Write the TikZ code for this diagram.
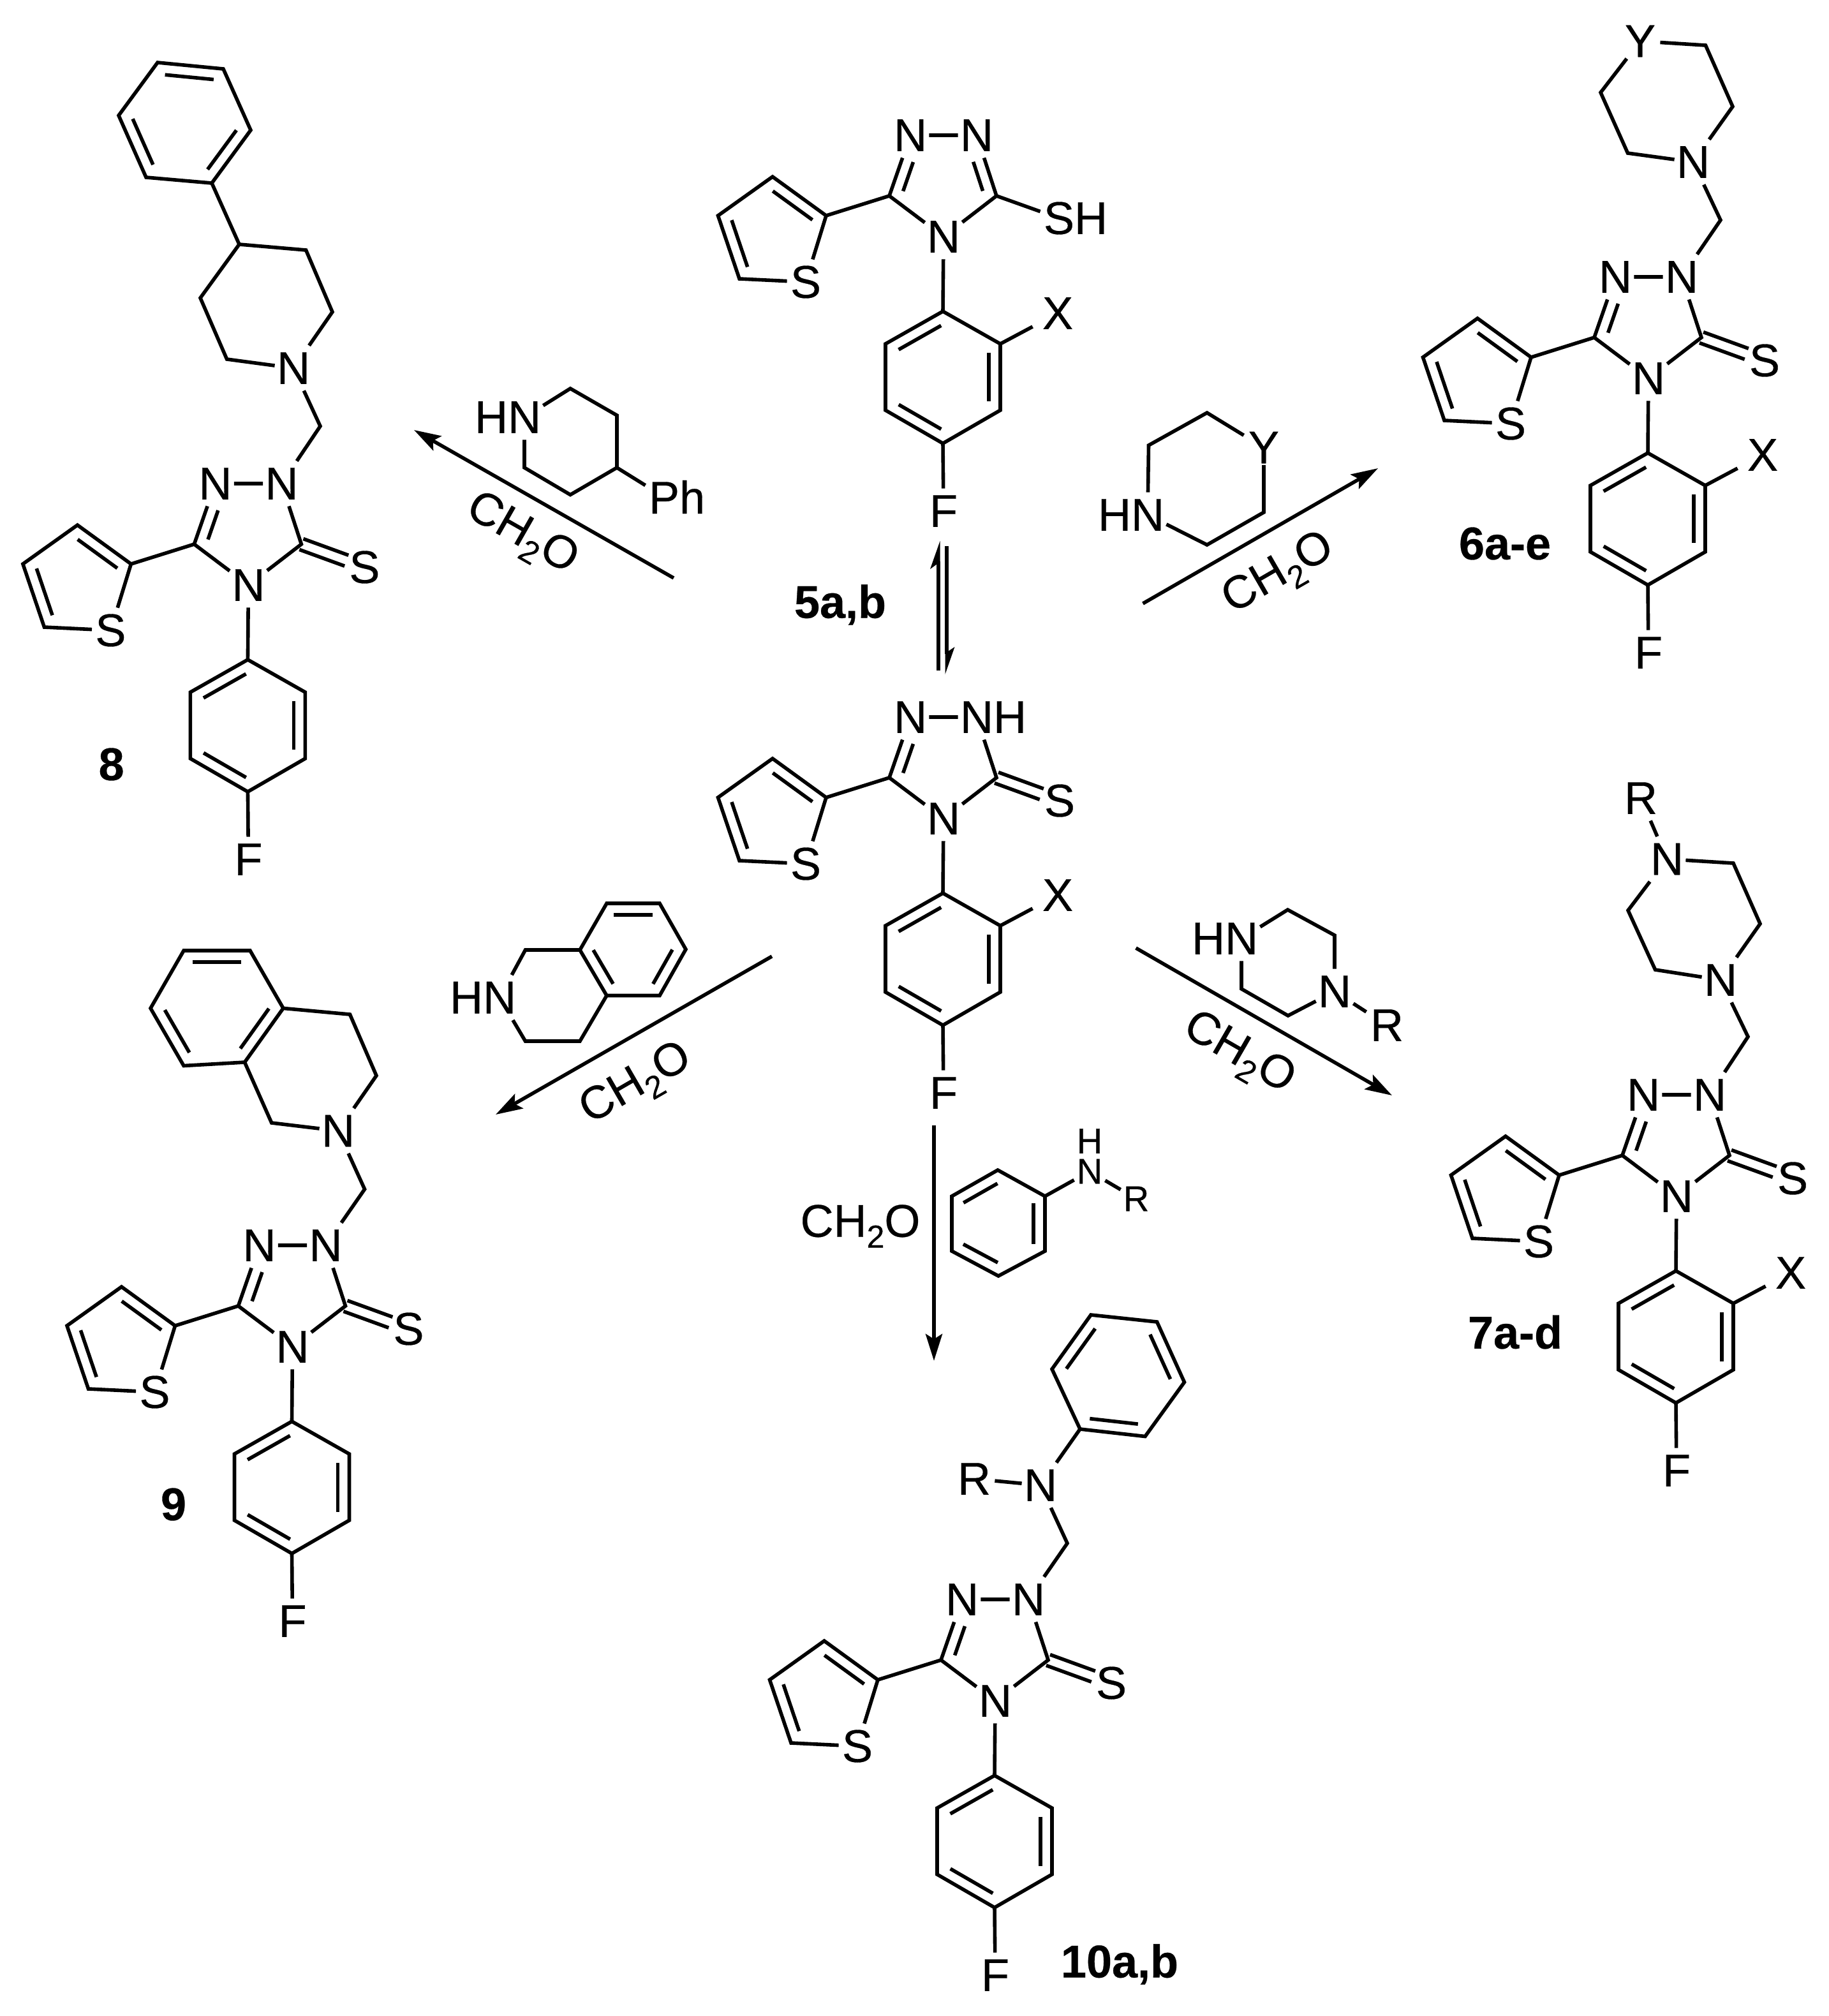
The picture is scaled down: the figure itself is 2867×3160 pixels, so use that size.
\documentclass[tikz,border=0pt]{standalone}
\usepackage{fontspec}
\setmainfont{Liberation Sans}[FakeBold=0.4,BoldFeatures={FakeBold=0.4}]
\usetikzlibrary{calc,arrows.meta}
\tikzset{
  bond/.style={line width=2.8pt,line join=miter,black},
  rxn/.style={line width=2.8pt,black,-{Stealth[length=21pt,width=13pt,inset=4pt]}},
  atom/.style={inner sep=0pt,minimum width=29pt,minimum height=35pt,font=\fontsize{36}{40}\selectfont},
  atomy/.style={atom,minimum width=31pt,minimum height=27pt},
  atomr/.style={atom,minimum width=32pt,minimum height=35pt},
  atomx/.style={atom,minimum width=39pt},
  atoms/.style={inner sep=0pt,minimum width=24pt,minimum height=28pt,font=\fontsize{28}{32}\selectfont},
  cpdlabel/.style={inner sep=0pt,font=\fontsize{36}{40}\selectfont\bfseries},
  condlabel/.style={inner sep=0pt,font=\fontsize{36}{40}\selectfont}
}
\newcommand\formald{CH\raisebox{-8.5pt}{\fontsize{25}{25}\selectfont 2}O}
\newcommand\dblf[4]{\draw[bond] ($(#1)!#3!(#2)!9pt!-90:(#2)$) -- ($(#2)!#4!(#1)!9pt!90:(#1)$);}
\newcommand\dbl[2]{\dblf{#1}{#2}{0.13}{0.13}}
\newcommand\vtx[2]{\coordinate (#1) at (#2);}
\newcommand\core[4]{%
  \begin{scope}[shift={(#2,#3)}]
    \node[atom] (#1n4) at (0,0) {N};
    \node[atom] (#1n1) at (-52,-159) {N};
    \node[atom] (#1n2) at (52,-159) {#4};
    \coordinate (#1c3) at (-85,-64);
    \coordinate (#1c5) at (83,-64);
    \coordinate (#1t2) at (-184,-33);
    \coordinate (#1t3) at (-268,-94);
    \coordinate (#1t4) at (-353.5,-33);
    \coordinate (#1t5) at (-320,66);
    \node[atom] (#1ts) at (-216,71) {S};
    \coordinate (#1b1) at (-1,117);
    \coordinate (#1b2) at (89,168);
    \coordinate (#1b3) at (89,272);
    \coordinate (#1b4) at (-1,324);
    \coordinate (#1b5) at (-91,272);
    \coordinate (#1b6) at (-91,168);
    \node[atom] (#1f) at (0,430) {F};
  \end{scope}
  \draw[bond] (#1n1) -- (#1c3) -- (#1n4) -- (#1c5) -- (#1n2) -- (#1n1);
  \dblf{#1c3}{#1n1}{0.14}{0.38}
  \draw[bond] (#1c3) -- (#1t2);
  \draw[bond] (#1ts) -- (#1t2) -- (#1t3) -- (#1t4) -- (#1t5) -- (#1ts);
  \dbl{#1t3}{#1t2}
  \dbl{#1t5}{#1t4}
  \draw[bond] (#1n4) -- (#1b1);
  \draw[bond] (#1b1) -- (#1b2) -- (#1b3) -- (#1b4) -- (#1b5) -- (#1b6) -- cycle;
  \dbl{#1b6}{#1b1}
  \dbl{#1b2}{#1b3}
  \dbl{#1b4}{#1b5}
  \draw[bond] (#1b4) -- (#1f);
}
\newcommand\thione[1]{%
  \node[atom] (#1sx) at ($(#1n4)+(182,-28)$) {S};
  \draw[bond,shorten >=15pt] ($(#1c5)!4.5pt!90:(#1sx)$) -- ($(#1sx)!4.5pt!-90:(#1c5)$);
  \draw[bond,shorten >=15pt] ($(#1c5)!4.5pt!-90:(#1sx)$) -- ($(#1sx)!4.5pt!90:(#1c5)$);
}
\newcommand\xsub[1]{%
  \node[atomx] (#1x) at ($(#1n4)+(179,120)$) {X};
  \draw[bond] (#1b2) -- (#1x);
}
\begin{document}
\begin{tikzpicture}[x=0.5pt,y=-0.5pt]
\useasboundingbox (0,0) rectangle (2867,3160);

% ---------- 5a,b thiol ----------
\core{ma}{1479}{371}{N}
\xsub{ma}
\node[atom] (masx) at ($(man4)+(181,-29)$) {S\rlap{H}};
\draw[bond] (mac5) -- (masx);
\dblf{man2}{mac5}{0.38}{0.14}
\node[cpdlabel] (lfive) at (1317,948) {5a,b};

% ---------- equilibrium ----------
\vtx{eqa}{1471,1051}
\vtx{eqb}{1471,880}
\draw[bond] (eqa) -- (eqb);
\vtx{eqc}{1473.5,848}
\vtx{eqd}{1458,892}
\vtx{eqe}{1469,884}
\vtx{eqf}{1473.5,884}
\fill (eqc) -- (eqd) -- (eqe) -- (eqf) -- cycle;
\vtx{eqg}{1484,856}
\vtx{eqh}{1484,1025}
\draw[bond] (eqg) -- (eqh);
\vtx{eqi}{1481.5,1057}
\vtx{eqj}{1496.5,1014}
\vtx{eqk}{1486,1021}
\vtx{eql}{1481.5,1021}
\fill (eqi) -- (eqj) -- (eqk) -- (eql) -- cycle;

% ---------- central thione ----------
\core{mb}{1479}{1283}{N\rlap{H}}
\xsub{mb}
\thione{mb}

% ---------- 8 ----------
\core{mc}{389.4}{917}{N}
\thione{mc}
\node[atom] (mcn) at (460,577) {N};
\vtx{mcm}{502,668}
\draw[bond] (mcn2) -- (mcm) -- (mcn);
\vtx{mcp1}{521,489}
\vtx{mcp2}{479.6,392}
\vtx{mcp3}{375,383}
\vtx{mcp4}{314,467}
\vtx{mcp5}{355.6,563}
\draw[bond] (mcn) -- (mcp1) -- (mcp2) -- (mcp3) -- (mcp4) -- (mcp5) -- (mcn);
\vtx{mca1}{332,287}
\vtx{mca2}{393,204}
\vtx{mca3}{350,108}
\vtx{mca4}{247,98}
\vtx{mca5}{186,181}
\vtx{mca6}{229,278}
\draw[bond] (mcp3) -- (mca1);
\draw[bond] (mca1) -- (mca6) -- (mca5) -- (mca4) -- (mca3) -- (mca2) -- cycle;
\dbl{mca2}{mca1}
\dbl{mca4}{mca3}
\dbl{mca6}{mca5}
\node[cpdlabel] (leight) at (174.6,1198) {8};

% reagent for 8
\node[atom] (ran) at (822,654) {\llap{H}N};
\vtx{ra1}{894,609}
\vtx{ra2}{967,651}
\vtx{ra3}{967,733}
\vtx{ra4}{894,775.5}
\vtx{ra5}{822,733}
\draw[bond] (ran) -- (ra1) -- (ra2) -- (ra3) -- (ra4) -- (ra5) -- (ran);
\node[atom] (rap) at (1041,779) {P\rlap{h}};
\draw[bond] (ra3) -- (rap);
\vtx{raa}{1056,906}
\vtx{rab}{649,674}
\draw[rxn] (raa) -- (rab);
\node[condlabel,rotate=-29.7] (fa) at (817,839) {\formald};

% ---------- 6a-e ----------
\core{md}{2584}{593}{N}
\xsub{md}
\thione{md}
\node[atom] (mdn) at (2654,254) {N};
\vtx{mdm}{2697,345}
\draw[bond] (mdn2) -- (mdm) -- (mdn);
\node[atomy] (mdy) at (2571,64.5) {Y};
\vtx{mdp1}{2716,167}
\vtx{mdp2}{2673.5,71}
\vtx{mdp3}{2509,145}
\vtx{mdp4}{2551.5,240}
\draw[bond] (mdn) -- (mdp1) -- (mdp2) -- (mdy) -- (mdp3) -- (mdp4) -- (mdn);
\node[cpdlabel] (lsix) at (2359,852) {6a-e};

% reagent for 6
\node[atom] (rbn) at (1799,807) {\llap{H}N};
\vtx{rb1}{1800.5,698}
\vtx{rb2}{1892,647}
\node[atomy] (rby) at (1981,701.5) {Y};
\vtx{rb3}{1981,803}
\vtx{rb4}{1892,854}
\draw[bond] (rbn) -- (rb1) -- (rb2) -- (rby) -- (rb3) -- (rb4) -- (rbn);
\vtx{rba}{1791.5,946}
\vtx{rbb}{2160,734}
\draw[rxn] (rba) -- (rbb);
\node[condlabel,rotate=30] (fb) at (2005,901) {\formald};

% ---------- 7a-d ----------
\core{me}{2628}{1875}{N}
\xsub{me}
\thione{me}
\node[atom] (men) at (2697,1536) {N};
\vtx{mem}{2740,1625}
\draw[bond] (men2) -- (mem) -- (men);
\node[atom] (met) at (2613,1346.5) {N};
\vtx{mep1}{2759,1448}
\vtx{mep2}{2717,1353}
\vtx{mep3}{2552,1427}
\vtx{mep4}{2594.6,1520}
\draw[bond] (men) -- (mep1) -- (mep2) -- (met) -- (mep3) -- (mep4) -- (men);
\node[atomr] (mer) at (2572,1251) {R};
\draw[bond] (met) -- (mer);
\node[cpdlabel] (lseven) at (2375,2088) {7a-d};

% reagent for 7
\node[atom] (rcn) at (1946,1471) {\llap{H}N};
\vtx{rc1}{2018.5,1426}
\vtx{rc2}{2092,1466}
\node[atom] (rcm) at (2092,1554) {N};
\vtx{rc3}{2019,1592}
\vtx{rc4}{1946,1550}
\draw[bond] (rcn) -- (rc1) -- (rc2) -- (rcm) -- (rc3) -- (rc4) -- (rcn);
\node[atomr] (rcr) at (2174,1607) {R};
\draw[bond] (rcm) -- (rcr);
\vtx{rca}{1780.6,1486}
\vtx{rcb}{2182,1717}
\draw[rxn] (rca) -- (rcb);
\node[condlabel,rotate=-30] (fc) at (1941,1653) {\formald};

% ---------- 9 ----------
\core{mf}{458.5}{2111}{N}
\thione{mf}
\node[atom] (mfn) at (530,1772.5) {N};
\vtx{mfm}{571.6,1864}
\draw[bond] (mfn2) -- (mfm) -- (mfn);
\vtx{mfp1}{590,1686}
\vtx{mfp2}{548.5,1590}
\vtx{mfp3}{444,1580.4}
\vtx{mfp4}{383.5,1665}
\vtx{mfp5}{425.7,1760}
\draw[bond] (mfn) -- (mfp1) -- (mfp2) -- (mfp3) -- (mfp4) -- (mfp5) -- (mfn);
\vtx{mfa1}{392,1490}
\vtx{mfa2}{288,1490}
\vtx{mfa3}{236,1580.4}
\vtx{mfa4}{288,1670.5}
\draw[bond] (mfp3) -- (mfa1) -- (mfa2) -- (mfa3) -- (mfa4) -- (mfp4);
\dbl{mfa2}{mfa1}
\dbl{mfp3}{mfp4}
\dbl{mfa4}{mfa3}
\node[cpdlabel] (lnine) at (272,2358) {9};

% reagent for 9
\node[atom] (rdn) at (783,1563.6) {\llap{H}N};
\vtx{rd1}{823.5,1489}
\vtx{rd2}{909,1489}
\vtx{rd3}{951,1560.5}
\vtx{rd4}{909,1632}
\vtx{rd5}{823.5,1632}
\draw[bond] (rdn) -- (rd1) -- (rd2) -- (rd3) -- (rd4) -- (rd5) -- (rdn);
\vtx{rda1}{951,1416}
\vtx{rda2}{1034,1416}
\vtx{rda3}{1075,1488}
\vtx{rda4}{1034,1560.5}
\draw[bond] (rd2) -- (rda1) -- (rda2) -- (rda3) -- (rda4) -- (rd3);
\dbl{rda1}{rda2}
\dbl{rda3}{rda4}
\dbl{rd3}{rd2}
\vtx{rdaa}{1210,1499}
\vtx{rdab}{777,1747}
\draw[rxn] (rdaa) -- (rdab);
\node[condlabel,rotate=30] (fd) at (998,1701) {\formald};

% ---------- 10a,b ----------
\core{mg}{1560}{2666}{N}
\thione{mg}
\node[atom] (mgn) at (1631,2328) {N};
\vtx{mgm}{1673,2419}
\draw[bond] (mgn2) -- (mgm) -- (mgn);
\node[atomr] (mgr) at (1527,2318) {R};
\draw[bond] (mgn) -- (mgr);
\vtx{mga1}{1693,2240}
\vtx{mga2}{1795,2251.5}
\vtx{mga3}{1856.5,2166.5}
\vtx{mga4}{1813.6,2072}
\vtx{mga5}{1710,2061}
\vtx{mga6}{1649,2146}
\draw[bond] (mgn) -- (mga1);
\draw[bond] (mga1) -- (mga2) -- (mga3) -- (mga4) -- (mga5) -- (mga6) -- cycle;
\dbl{mga2}{mga1}
\dbl{mga4}{mga3}
\dbl{mga6}{mga5}
\node[cpdlabel] (lten) at (1755,3079) {10a,b};

% reagent for 10
\vtx{re1}{1564,1834}
\vtx{re2}{1638,1875}
\vtx{re3}{1638,1961}
\vtx{re4}{1565,2000}
\vtx{re5}{1492,1961}
\vtx{re6}{1492,1875}
\draw[bond] (re1) -- (re2) -- (re3) -- (re4) -- (re5) -- (re6) -- cycle;
\dbl{re2}{re3}
\dbl{re4}{re5}
\dbl{re6}{re1}
\node[atoms] (ren) at (1708,1836) {N};
\node[atoms] (reh) at (1708,1788.5) {H};
\node[atoms] (rer) at (1781,1879) {R};
\draw[bond] (re2) -- (ren);
\draw[bond] (ren) -- (rer);
\vtx{rea}{1464,1764}
\vtx{reb}{1464,2133}
\draw[rxn] (rea) -- (reb);
\node[condlabel] (fe) at (1348.5,1922) {\formald};
\end{tikzpicture}
\end{document}
